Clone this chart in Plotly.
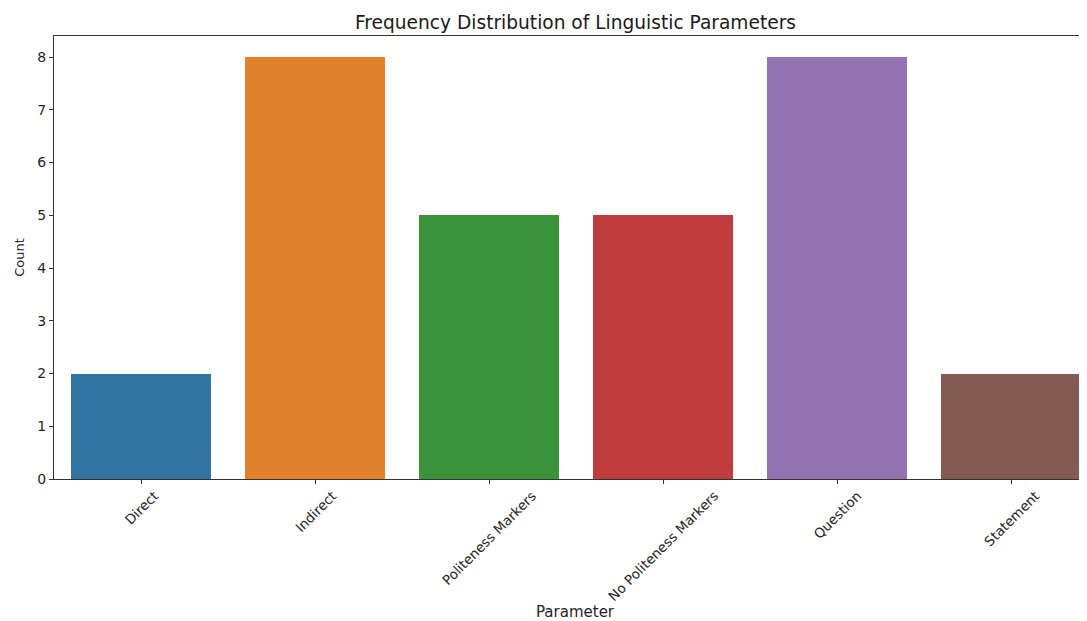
import plotly.graph_objects as go

categories = ["Direct", "Indirect", "Politeness Markers", "No Politeness Markers", "Question", "Statement"]
counts = [2, 8, 5, 5, 8, 2]
colors = ["#3274a1", "#e1812c", "#3a923a", "#c03d3e", "#9372b2", "#845b53"]
y_ticks = [0, 1, 2, 3, 4, 5, 6, 7, 8]

OFF = 8  # page body margin
W, H = 1087 - OFF, 621 - OFF
L, T = 54 - OFF, 36 - OFF
B = 621 - 479
R = 0
plot_w = W - L - R
plot_h = H - T - B
unit = 174.0  # px per category
x_max = -0.5 + plot_w / unit

FONT = "DejaVu Sans"
TXT = "#262626"
fig = go.Figure()
fig.add_trace(go.Bar(
    x=list(range(len(categories))), y=counts, width=0.8,
    marker=dict(color=colors, line=dict(width=0)),
    showlegend=False, hoverinfo="skip",
))

annotations = []
for i, c in enumerate(categories):
    annotations.append(dict(
        x=i, y=0, xref="x", yref="paper", text=c, textangle=-45,
        showarrow=False, xanchor="center", yanchor="top", yshift=-6,
        font=dict(family=FONT, size=13.5, color=TXT),
    ))
annotations.append(dict(
    x=(575.5 - 54) / plot_w, y=-(612 - 479) / plot_h, xref="paper", yref="paper",
    text="Parameter", showarrow=False, xanchor="center", yanchor="middle",
    font=dict(family=FONT, size=15, color=TXT),
))

fig.update_layout(
    width=W, height=H,
    margin=dict(l=L, r=R, t=T, b=B, pad=0),
    paper_bgcolor="white", plot_bgcolor="white",
    font=dict(family=FONT, size=14, color=TXT),
    title=dict(text="Frequency Distribution of Linguistic Parameters",
               x=(575.5 - 54) / plot_w, xref="paper", xanchor="center",
               y=1 - (22 - OFF) / H, yref="container", yanchor="middle",
               font=dict(family=FONT, size=18.6, color="#1a1a1a")),
    xaxis=dict(range=[-0.5, x_max], tickvals=list(range(len(categories))),
               showticklabels=False, ticks="outside", ticklen=4, tickwidth=1,
               tickcolor="#333333", showline=True, linecolor="#333333",
               linewidth=1.2, mirror=True, showgrid=False, zeroline=False,
               fixedrange=True),
    yaxis=dict(range=[0, 8.4], tickvals=y_ticks, ticks="outside", ticklen=4,
               tickwidth=1, tickcolor="#333333", showline=True,
               linecolor="#333333", linewidth=1.2, mirror=False,
               showgrid=False, zeroline=False,
               tickfont=dict(family=FONT, size=14, color=TXT),
               title=dict(text="Count", standoff=9,
                          font=dict(family=FONT, size=13, color=TXT))),
    annotations=annotations,
    bargap=0,
)

fig.write_html("out.html")
